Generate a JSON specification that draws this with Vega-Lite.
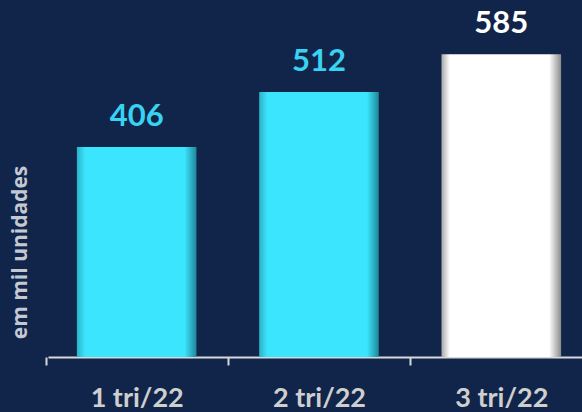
{
  "$schema": "https://vega.github.io/schema/vega-lite/v6.json",
  "width": 534,
  "height": 357,
  "autosize": {"type": "none"},
  "padding": {"left": 48, "top": 0, "right": 0, "bottom": 55},
  "background": "#11254a",
  "config": {"view": {"stroke": null}, "font": "Lato"},
  "data": {"values": [
    {"periodo": "1 tri/22", "valor": 406},
    {"periodo": "2 tri/22", "valor": 512},
    {"periodo": "3 tri/22", "valor": 585}
  ]},
  "encoding": {
    "x": {
      "field": "periodo", "type": "nominal", "sort": null,
      "scale": {"paddingInner": 0.344, "paddingOuter": 0.1366, "align": 0.58},
      "axis": {
        "title": null, "labelAngle": 0, "labelFontSize": 27, "labelFontWeight": "bold",
        "labelColor": "#cfcfcf", "labelFont": "Lato", "labelBaseline": "alphabetic",
        "labelPadding": 41, "tickOffset": -91, "labelOffset": 91, "tickSize": 8, "tickWidth": 2,
        "tickColor": "#d9d9d9", "domainColor": "#d9d9d9", "domainWidth": 2
      }
    },
    "y": {
      "field": "valor", "type": "quantitative",
      "scale": {"domain": [0, 690]},
      "axis": {
        "title": "em mil unidades", "grid": false, "domain": false, "ticks": false, "labels": false,
        "titleFontSize": 21, "titleFontWeight": "bold", "titleColor": "#c3c9d3", "titleFont": "Open Sans",
        "titleAngle": -90, "titleX": -28, "titleY": 252, "titleAlign": "center", "titleBaseline": "middle"
      }
    }
  },
  "layer": [
    {
      "mark": {"type": "bar"},
      "encoding": {
        "fill": {
          "condition": {"test": "datum.periodo === '3 tri/22'", "value": {
            "gradient": "linear", "x1": 0, "x2": 1, "y1": 0, "y2": 0,
            "stops": [
              {"offset": 0, "color": "#a9a9a9"},
              {"offset": 0.07, "color": "#ffffff"},
              {"offset": 0.9, "color": "#ffffff"},
              {"offset": 1, "color": "#8c8c8c"}
            ]}},
          "value": {
            "gradient": "linear", "x1": 0, "x2": 1, "y1": 0, "y2": 0,
            "stops": [
              {"offset": 0, "color": "#2bb2c8"},
              {"offset": 0.07, "color": "#3ce5fe"},
              {"offset": 0.9, "color": "#3ce5fe"},
              {"offset": 1, "color": "#1f8799"}
            ]}
        }
      }
    },
    {
      "mark": {"type": "text", "baseline": "alphabetic", "dy": -21, "fontSize": 31, "fontWeight": "bold", "font": "Lato"},
      "encoding": {
        "text": {"field": "valor", "type": "quantitative"},
        "color": {
          "condition": {"test": "datum.periodo === '3 tri/22'", "value": "#ffffff"},
          "value": "#38d3f2"
        }
      }
    }
  ]
}
